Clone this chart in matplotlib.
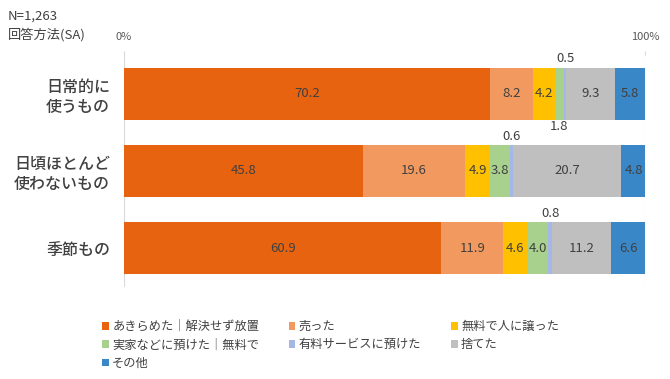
import matplotlib.pyplot as plt
from matplotlib.patches import Patch
import numpy as np

plt.rcParams['font.family'] = ['Noto Sans CJK JP', 'DejaVu Sans']

categories = ['日常的に\n使うもの', '日頃ほとんど\n使わないもの', '季節もの']
series = ['あきらめた｜解決せず放置', '売った', '無料で人に譲った',
          '実家などに預けた｜無料で', '有料サービスに預けた', '捨てた', 'その他']
values = [
    [70.2, 45.8, 60.9],
    [8.2, 19.6, 11.9],
    [4.2, 4.9, 4.6],
    [1.8, 3.8, 4.0],
    [0.5, 0.6, 0.8],
    [9.3, 20.7, 11.2],
    [5.8, 4.8, 6.6],
]
colors = ['#E8630F', '#F2995F', '#FFC000', '#A9D18E', '#A4B7E6', '#BFBFBF', '#3A87C8']

fig = plt.figure(figsize=(6.7, 3.79), dpi=100)
ax = fig.add_axes([0.185, 0.243, 0.778, 0.612])

y = np.arange(len(categories))
left = np.zeros(len(categories))
for i, (name, vals) in enumerate(zip(series, values)):
    vals = np.array(vals)
    ax.barh(y, vals, left=left, height=0.67, color=colors[i], label=name, zorder=3)
    for j, v in enumerate(vals):
        cx = left[j] + v / 2
        if v >= 3:
            ax.text(cx, y[j], f'{v:.1f}', ha='center', va='center',
                    fontsize=9.5, color='#404040', zorder=4)
        elif i == 3:
            # small green segment: label below the bar
            ax.text(cx, y[j] + 0.335 + 0.01, f'{v:.1f}', ha='center', va='top',
                    fontsize=9.5, color='#404040')
        else:
            ax.text(cx, y[j] - 0.335 - 0.03, f'{v:.1f}', ha='center', va='bottom',
                    fontsize=9.5, color='#404040')
    left += vals

ax.set_xlim(0, 100)
ax.set_ylim(2.5, -0.5)
ax.set_yticks(y)
ax.set_yticklabels(categories, fontsize=11.5, color='#404040', linespacing=1.25,
                   fontweight='medium')
ax.tick_params(axis='y', length=0, pad=10)
ax.xaxis.tick_top()
ax.set_xticks([0, 100])
ax.set_xticklabels(['0%', '100%'], fontsize=8, color='#595959')
ax.tick_params(axis='x', length=3, color='#D9D9D9', pad=6)
for s in ax.spines.values():
    s.set_visible(False)
ax.axvline(0, color='#D9D9D9', lw=0.8, zorder=1)
ax.axvline(100, color='#D9D9D9', lw=0.8, zorder=1)

fig.text(0.012, 0.975, 'N=1,263', fontsize=9.5, color='#404040', va='top')
fig.text(0.012, 0.928, '回答方法(SA)', fontsize=9.5, color='#404040', va='top')

handles = [Patch(facecolor=c, edgecolor='none') for c in colors]
order = [0, 3, 6, 1, 4, 2, 5]
fig.legend([handles[k] for k in order], [series[k] for k in order],
           ncol=3, loc='upper left', bbox_to_anchor=(0.152, 0.155),
           frameon=False, fontsize=8.8, handlelength=0.55, handleheight=0.55,
           handletextpad=0.3, columnspacing=2.4, labelspacing=0.42,
           labelcolor='#404040', borderaxespad=0, borderpad=0)

fig.savefig('out.png', dpi=100)
